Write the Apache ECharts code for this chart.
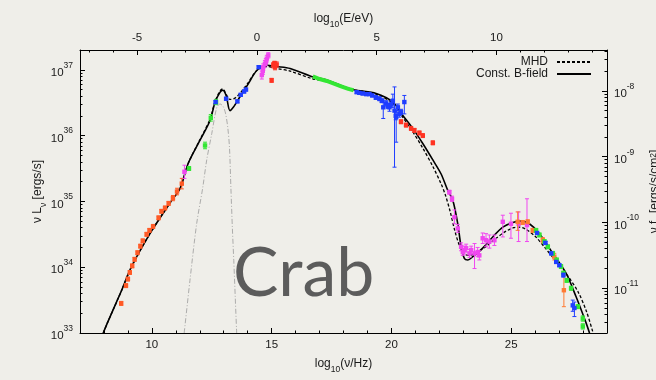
<!DOCTYPE html>
<html>
<head>
<meta charset="utf-8">
<script src="https://cdn.jsdelivr.net/npm/echarts@6/dist/echarts.min.js"></script>
<style>
  html, body { margin: 0; padding: 0; background: #efeee9; }
  #chart { width: 656px; height: 380px; }
</style>
</head>
<body>
<div id="chart"></div>
<script>
// Crab nebula broadband SED: log10(nu/Hz) vs log10(nu L_nu / erg s^-1)

// axis conversions
const LOG_H_EV = -14.3834;   // log10(h / eV s): log E = log nu + LOG_H_EV
const LOG_4PI_D2 = 44.68;    // log10(4 pi d^2) for d = 2 kpc: log nuF = log nuL - LOG_4PI_D2

// axis ranges and tick labels
const freqRange = [7, 29];
const lumRange = [33, 37.301];
const freqTicks = [10, 15, 20, 25];
const energyTicks = [-5, 0, 5, 10];
const lumTicks = [33, 34, 35, 36, 37];
const fluxTicks = [-11, -10, -9, -8];

// model curves [log nu, log nuL]
const constBField = [
  [7.97,33.0],[8.14,33.15],[8.74,33.65],[9.14,34.0],[9.92,34.51],[10.80,35.0],[11.18,35.2],
  [11.52,35.58],[12.01,35.93],[12.43,36.23],[12.64,36.51],[12.85,36.66],[12.96,36.69],[13.10,36.61],
  [13.26,36.38],[13.40,36.43],[13.68,36.59],[14.03,36.79],[14.38,36.99],[14.80,37.07],[15.21,37.05],
  [15.77,37.02],[16.74,36.89],[17.27,36.85],[18.39,36.70],[19.36,36.64],[20.06,36.51],[20.47,36.31],
  [20.89,36.11],[21.31,35.88],[21.73,35.63],[22.07,35.42],[22.35,35.17],[22.56,35.02],[22.77,34.66],
  [22.91,34.31],[23.05,34.13],[23.19,34.11],[23.40,34.16],[23.81,34.29],[24.23,34.46],[24.65,34.61],
  [25.07,34.68],[25.41,34.70],[25.76,34.66],[26.18,34.51],[26.74,34.21],[27.29,33.91],[27.71,33.55],
  [28.13,33.15],[28.27,33.0]
];
const mhd = [
  [7.97,33.0],[8.14,33.15],[8.74,33.65],[9.14,34.0],[9.92,34.51],[10.80,35.0],[11.18,35.2],
  [11.52,35.58],[12.01,35.94],[12.43,36.25],[12.64,36.52],[12.85,36.68],[12.96,36.71],[13.10,36.63],
  [13.26,36.55],[13.47,36.57],[13.72,36.66],[14.03,36.81],[14.38,36.99],[14.80,37.05],[15.21,37.02],
  [15.77,36.98],[16.74,36.86],[17.27,36.83],[18.39,36.70],[19.36,36.63],[20.06,36.49],[20.47,36.28],
  [20.89,36.06],[21.31,35.81],[21.73,35.53],[22.07,35.27],[22.25,35.1],[22.45,34.85],[22.65,34.55],
  [22.85,34.32],[23.05,34.2],[23.25,34.18],[23.5,34.21],[23.9,34.3],[24.3,34.42],[24.75,34.54],
  [25.1,34.6],[25.3,34.61],[25.6,34.58],[26.0,34.47],[26.4,34.3],[26.8,34.12],[27.3,33.9],
  [27.8,33.62],[28.15,33.32],[28.42,33.0]
];
const dustBump = [
  [11.35,33.0],[11.59,33.8],[11.87,34.66],[12.12,35.2],[12.29,35.63],[12.5,36.03],[12.71,36.43],
  [12.85,36.48],[12.98,36.44],[13.08,36.33],[13.17,36.12],[13.24,35.82],[13.30,35.2],[13.36,34.6],
  [13.42,34.1],[13.48,33.55],[13.54,33.0]
];

// measurements [log nu, log nuL, err] or [log nu, log nuL, low, high]
const radioPts = [
  [8.72,33.45,0.03],[8.92,33.72,0.03],[9.00,33.82,0.03],[9.08,33.92,0.03],[9.18,34.02,0.03],
  [9.28,34.12,0.03],[9.40,34.22,0.03],[9.52,34.32,0.03],[9.62,34.40,0.03],[9.78,34.50,0.03],
  [9.90,34.56,0.03],[10.05,34.62,0.03],[10.28,34.75,0.03],[10.40,34.85,0.03],[10.55,34.90,0.03],
  [10.70,34.97,0.03],[10.88,35.05,0.04],[11.05,35.15,0.05],[11.25,35.27,0.08]
];
const greenIR = [[11.55,35.50,0.03],[12.22,35.85,0.05],[12.46,36.27,0.05],[12.68,36.51,0.04]];
const magentaLow = [
  [11.36,35.45,0.1],[14.59,36.92,0.06],[14.63,36.98,0.05],[14.65,37.04,0.05],[14.72,37.09,0.05],
  [14.76,37.12,0.05],[14.80,37.17,0.05],[14.86,37.22,0.04]
];
const blueIR = [
  [12.66,36.51,0.02],[13.10,36.56,0.02],[13.57,36.52,0.02],[13.71,36.62,0.02],[13.85,36.67,0.02],
  [13.93,36.70,0.02],[14.46,37.04,0.02]
];
const redOptX = [
  [15.0,36.84,0.03],[15.07,37.07,0.04],[15.12,37.10,0.03],[15.14,37.04,0.04],[15.21,37.08,0.04],
  [20.4,36.21,0.03],[20.61,36.16,0.03],[20.82,36.11,0.03],[20.96,36.08,0.03],[21.17,36.04,0.03],
  [21.31,36.0,0.03],[21.73,35.89,0.03]
];
const softXBand = [[16.72,36.90],[17.0,36.86],[17.3,36.83],[17.6,36.79],[17.9,36.75],[18.2,36.71],[18.42,36.69]];
const blueX = [
  [18.55,36.66,0.02],[18.66,36.65,0.02],[18.8,36.64,0.02],[18.95,36.63,0.02],[19.08,36.63,0.02],
  [19.2,36.61,0.02],[19.35,36.58,0.03],[19.5,36.56,0.03],[19.6,36.53,0.03],[19.66,36.43,36.26,36.54],
  [19.78,36.49,0.04],[19.85,36.45,0.04],[19.92,36.43,0.06],[20.0,36.48,0.05],[20.06,36.53,0.1],
  [20.13,36.38,35.52,36.74],[20.18,36.30,0.06],[20.2,36.28,35.90,36.38],[20.27,36.43,0.05],
  [20.33,36.33,0.05],[20.4,36.36,0.04],[20.54,36.51,36.33,36.61]
];
const magentaGamma = [
  [22.42,35.14,0.03],[22.53,35.04,0.04],[22.63,34.76,34.66,34.87],[22.77,34.59,0.06],[22.91,34.31,0.06],
  [22.98,34.23,0.05],[23.05,34.26,0.06],[23.12,34.29,0.06],[23.26,34.21,0.06],[23.33,34.26,0.06],
  [23.47,34.21,33.98,34.36],[23.6,34.23,0.07],[23.67,34.18,0.07],[23.81,34.44,0.08],[23.95,34.41,0.1],
  [24.09,34.39,0.1],[24.3,34.41,0.08],[24.65,34.69,34.46,34.79],[24.99,34.66,34.44,34.82],
  [25.31,34.66,34.39,34.84],[25.66,34.64,34.39,35.04]
];
const orangeGamma = [
  [25.27,34.69,34.56,34.84],[25.48,34.68,0.03],[25.69,34.69,0.03],[25.9,34.56,0.03],[26.32,34.41,0.04],
  [26.8,34.16,0.05],[27.2,33.65,33.40,33.88]
];
const greenTeV = [
  [26.04,34.56,0.03],[26.18,34.49,0.03],[26.39,34.39,0.03],[26.53,34.31,0.03],[26.74,34.21,0.03],
  [26.9,34.11,0.03],[27.08,34.01,0.03],[27.18,33.91,0.03],[27.32,33.80,0.03],[27.5,33.68,0.03],
  [27.78,33.40,0.03],[27.99,33.22,0.04],[27.99,33.10,0.04]
];
const blueTeV = [
  [26.08,34.52,0.02],[26.43,34.37,0.02],[26.67,34.21,0.02],[26.88,34.08,0.02],[27.01,34.03,0.02],
  [27.18,33.88,0.03],[27.57,33.42,33.33,33.50],[27.64,33.38,33.25,33.47]
];

// colours
const C_RADIO = '#ff5a26', C_RED = '#ff3322', C_GREEN = '#33e633', C_BLUE = '#1f3dff',
      C_MAGENTA = '#f047f0', C_ORANGE = '#ff7a33';

const FONT = '"Liberation Sans", Arial, Helvetica, sans-serif';

function bars(rows) {
  return rows.map(r => r.length === 4 ? r : [r[0], r[1], r[1] - r[2], r[1] + r[2]]);
}

function minorLogTicks(lo, hi) {
  const out = [];
  for (let n = Math.floor(lo); n <= Math.ceil(hi); n++) {
    for (let k = 2; k <= 9; k++) {
      const v = n + Math.log10(k);
      if (v > lo && v < hi) out.push(v);
    }
  }
  return out;
}
function minorLinTicks(lo, hi, major) {
  const out = [];
  for (let v = Math.ceil(lo); v <= Math.floor(hi); v++) if (major.indexOf(v) < 0) out.push(v);
  return out;
}

function errSeries(name, rows, color) {
  return {
    type: 'custom', name: name, xAxisIndex: 0, yAxisIndex: 0, z: 5,
    data: bars(rows),
    renderItem: function (params, api) {
      const p = api.coord([api.value(0), api.value(1)]);
      const lo = api.coord([api.value(0), api.value(2)])[1];
      const hi = api.coord([api.value(0), api.value(3)])[1];
      const st = { stroke: color, lineWidth: 1 };
      const cap = 2, s = 2.2;
      return {
        type: 'group',
        children: [
          { type: 'line', shape: { x1: p[0], y1: lo, x2: p[0], y2: hi }, style: st },
          { type: 'line', shape: { x1: p[0] - cap, y1: lo, x2: p[0] + cap, y2: lo }, style: st },
          { type: 'line', shape: { x1: p[0] - cap, y1: hi, x2: p[0] + cap, y2: hi }, style: st },
          { type: 'rect', shape: { x: p[0] - s, y: p[1] - s, width: 2 * s, height: 2 * s }, style: { fill: color } }
        ]
      };
    }
  };
}

const supRich = {
  b: { fontSize: 11.5, lineHeight: 18, verticalAlign: 'bottom', fontFamily: FONT, color: '#1a1a1a' },
  s: { fontSize: 8.5, lineHeight: 10, verticalAlign: 'top', fontFamily: FONT, color: '#1a1a1a' }
};
const nameRich = {
  b: { fontSize: 12, lineHeight: 16, verticalAlign: 'top', fontFamily: FONT, color: '#1a1a1a' },
  sub: { fontSize: 8.5, lineHeight: 10, verticalAlign: 'bottom', fontFamily: FONT, color: '#1a1a1a' },
  sup: { fontSize: 8.5, lineHeight: 10, verticalAlign: 'top', fontFamily: FONT, color: '#1a1a1a' }
};

const axisLineStyle = { show: true, onZero: false, lineStyle: { color: '#000', width: 1 } };
const noLine = { show: false, onZero: false };
const hidden = { show: false };

const energyRange = [freqRange[0] + LOG_H_EV, freqRange[1] + LOG_H_EV];
const fluxRange = [lumRange[0] - LOG_4PI_D2, lumRange[1] - LOG_4PI_D2];

function xAxisPair(pos, range, major, name, gap) {
  return [
    {
      type: 'value', position: pos, min: range[0], max: range[1],
      axisLine: axisLineStyle, splitLine: hidden,
      axisTick: { show: true, inside: true, length: 5, customValues: major, lineStyle: { color: '#000' } },
      axisLabel: { show: true, customValues: major, margin: 6, fontSize: 11.5, fontFamily: FONT, color: '#1a1a1a' },
      name: name, nameLocation: 'middle', nameGap: gap, nameMoveOverlap: false,
      nameTextStyle: { rich: nameRich }
    },
    {
      type: 'value', position: pos, min: range[0], max: range[1],
      axisLine: noLine, splitLine: hidden, axisLabel: hidden,
      axisTick: { show: true, inside: true, length: 2.5, customValues: minorLinTicks(range[0], range[1], major), lineStyle: { color: '#000' } }
    }
  ];
}
function yAxisPair(pos, range, major, name, gap) {
  return [
    {
      type: 'value', position: pos, min: range[0], max: range[1],
      axisLine: axisLineStyle, splitLine: hidden,
      axisTick: { show: true, inside: true, length: 5, customValues: major, lineStyle: { color: '#000' } },
      axisLabel: {
        show: true, customValues: major, margin: 7,
        formatter: v => '{b|10}{s|' + v + '}', rich: supRich
      },
      name: name, nameLocation: 'middle', nameGap: gap, nameRotate: 90, nameMoveOverlap: false,
      nameTextStyle: { rich: nameRich }
    },
    {
      type: 'value', position: pos, min: range[0], max: range[1],
      axisLine: noLine, splitLine: hidden, axisLabel: hidden,
      axisTick: { show: true, inside: true, length: 2.5, customValues: minorLogTicks(range[0], range[1]), lineStyle: { color: '#000' } }
    }
  ];
}

const chart = echarts.init(document.getElementById('chart'), null, { renderer: 'canvas' });

chart.setOption({
  backgroundColor: '#efeee9',
  animation: false,
  grid: { left: 80, right: 49, top: 50, bottom: 47, containLabel: false, outerBoundsMode: 'none' },
  xAxis: [].concat(
    xAxisPair('bottom', freqRange, freqTicks, '{b|log}{sub|10}{b|(ν/Hz)}', 25),
    xAxisPair('top', energyRange, energyTicks, '{b|log}{sub|10}{b|(E/eV)}', 21)
  ),
  yAxis: [].concat(
    yAxisPair('left', lumRange, lumTicks, '{b|ν L}{sub|ν}{b| [ergs/s]}', 32),
    yAxisPair('right', fluxRange, fluxTicks, '{b|ν f}{sub|ν}{b| [ergs/s/cm}{sup|2}{b|]}', 42)
  ),
  legend: {
    data: ['MHD', 'Const. B-field'],
    orient: 'vertical', align: 'right',
    right: 59, top: 51,
    itemWidth: 34, itemHeight: 8, itemGap: 0,
    itemStyle: { opacity: 0 },
    textStyle: { fontSize: 12, fontFamily: FONT, color: '#1a1a1a', lineHeight: 11.6, padding: [0, 4, 0, 0] }
  },
  title: {
    text: 'Crab', left: 228, top: 235,
    textStyle: { fontSize: 68, fontWeight: 'normal', fontFamily: 'Lato, "Noto Sans", sans-serif', color: '#5c5c5c' }
  },
  series: [
    {
      type: 'line', name: 'dust', data: dustBump, symbol: 'none', smooth: 0.3,
      lineStyle: { color: '#9a9a9a', width: 0.8, type: [5, 2, 1, 2] }, z: 2
    },
    {
      type: 'line', name: 'MHD', data: mhd, symbol: 'none', smooth: 0.3,
      lineStyle: { color: '#000', width: 1.3, type: [3, 2] }, itemStyle: { color: '#000' }, z: 3
    },
    {
      type: 'line', name: 'Const. B-field', data: constBField, symbol: 'none', smooth: 0.3,
      lineStyle: { color: '#000', width: 1.6 }, itemStyle: { color: '#000' }, z: 3
    },
    {
      type: 'line', name: 'softX', data: softXBand, symbol: 'none',
      lineStyle: { color: C_GREEN, width: 4 }, z: 5
    },
    errSeries('radio', radioPts, C_RADIO),
    errSeries('greenIR', greenIR, C_GREEN),
    errSeries('blueIR', blueIR, C_BLUE),
    errSeries('magentaLow', magentaLow, C_MAGENTA),
    errSeries('redOptX', redOptX, C_RED),
    errSeries('blueX', blueX, C_BLUE),
    errSeries('magentaGamma', magentaGamma, C_MAGENTA),
    errSeries('orangeGamma', orangeGamma, C_ORANGE),
    errSeries('greenTeV', greenTeV, C_GREEN),
    errSeries('blueTeV', blueTeV, C_BLUE)
  ]
});
</script>
</body>
</html>
